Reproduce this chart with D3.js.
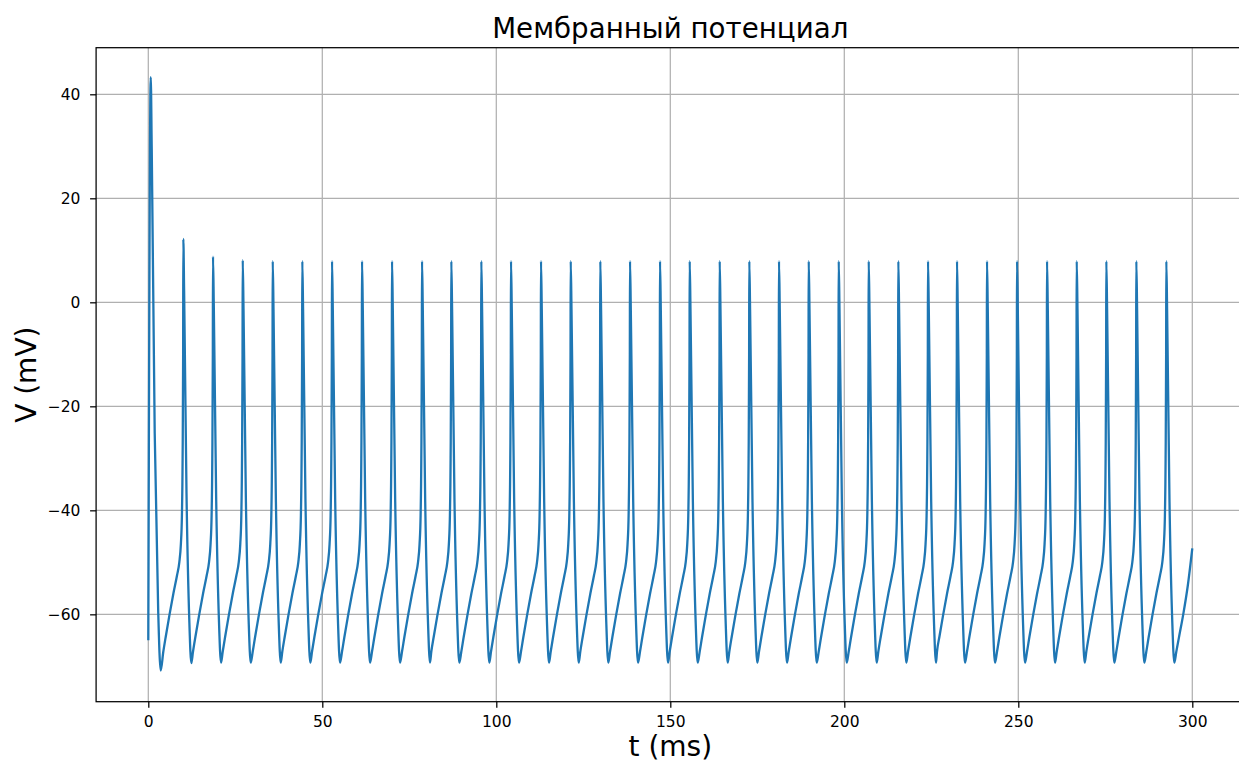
<!DOCTYPE html>
<html>
<head>
<meta charset="utf-8">
<script src="https://cdn.jsdelivr.net/npm/d3@7"></script>
<style>
    body { margin: 0; background: #fff; }
    text { font-family: "DejaVu Sans", sans-serif; fill: #000; }
</style>
</head>
<body>
<div id="chart"></div>
<script>
// spike peaks (ms, mV)
let spikeTimes = [
    0.7, 10.06, 18.59, 27.13, 35.75,
    44.25, 52.79, 61.41, 70.03, 78.65,
    87.07, 95.69, 104.22, 112.84, 121.38,
    129.88, 138.42, 147.04, 155.57, 164.19,
    172.7, 181.23, 189.77, 198.39, 207.01,
    215.52, 224.05, 232.38, 241.0, 249.63,
    258.25, 266.78, 275.29, 283.91, 292.53
];
let spikePeaks = [
    43.3, 12.2, 8.8, 8.1, 7.9,
    7.9, 7.9, 7.9, 7.9, 7.9,
    7.9, 7.9, 7.9, 7.9, 7.9,
    7.9, 7.9, 7.9, 7.9, 7.9,
    7.9, 7.9, 7.9, 7.9, 7.9,
    7.9, 7.9, 7.9, 7.9, 7.9,
    7.9, 7.9, 7.9, 7.9, 7.9
];
// after-hyperpolarisation minima
let troughTimes = [
    3.56, 12.36, 20.89, 29.43, 38.05,
    46.55, 55.09, 63.71, 72.33, 80.95,
    89.37, 97.99, 106.52, 115.14, 123.68,
    132.18, 140.72, 149.34, 157.87, 166.49,
    175.0, 183.53, 192.07, 200.69, 209.31,
    217.82, 226.35, 234.68, 243.3, 251.93,
    260.55, 269.08, 277.59, 286.21, 294.83
];
let troughValues = [
    -70.8, -69.4, -69.3, -69.3, -69.3,
    -69.3, -69.3, -69.3, -69.3, -69.3,
    -69.3, -69.3, -69.3, -69.3, -69.3,
    -69.3, -69.3, -69.3, -69.3, -69.3,
    -69.3, -69.3, -69.3, -69.3, -69.3,
    -69.3, -69.3, -69.3, -69.3, -69.3,
    -69.3, -69.3, -69.3, -69.3, -69.3
];
// slow depolarisation before a spike: ms before the peak -> mV
let riseBefore = [5.75, 5.05, 3.95, 2.85, 1.8, 1.15, 0.7, 0.4, 0.2, 0.05];
let riseValues = [-67.2, -64.3, -60, -56, -52.5, -50, -46.5, -41, -30, -10];
// repolarisation: share of the peak->trough time, share of the drop
let fallTime = [0.1, 0.4, 0.75];
let fallDrop = [0.12, 0.6, 0.9];
let startPoint = [0, -65];
let tailTimes = [295.4, 296.2, 297.4, 298.7, 300];
let tailValues = [-67.2, -64.3, -60, -54.5, -47.3];

let xTicks = [0, 50, 100, 150, 200, 250, 300];
let yTicks = [-60, -40, -20, 0, 20, 40];

let width = 1239,
    height = 762,
    plotLeft = 96.1,
    plotRight = 1244.5,
    plotTop = 47.7,
    plotBottom = 701.7;

let svg = d3.select('#chart').append('svg')
    .attr('width', width)
    .attr('height', height)
    .style('display', 'block');

let xScale = d3.scaleLinear()
    .domain([-15, 315])
    .range([plotLeft, plotRight]);

let yScale = d3.scaleLinear()
    .domain([-76.8, 48.96])
    .range([plotBottom, plotTop]);

// build the trace
let trace = [startPoint];
spikeTimes.forEach((tp, i) => {
    if (i > 0) {
        riseBefore.forEach((dt, j) => {
            if (tp - dt > troughTimes[i - 1] + 0.05) trace.push([tp - dt, riseValues[j]]);
        });
    }
    trace.push([tp, spikePeaks[i]]);
    fallTime.forEach((f, j) => {
        trace.push([tp + f * (troughTimes[i] - tp), spikePeaks[i] + fallDrop[j] * (troughValues[i] - spikePeaks[i])]);
    });
    trace.push([troughTimes[i], troughValues[i]]);
});
tailTimes.forEach((t, i) => trace.push([t, tailValues[i]]));

// grid
let grid_g = svg.append('g').attr('class', 'grid_g');
grid_g.selectAll('.vgrid')
    .data(xTicks)
    .join('line')
    .attr('class', 'vgrid')
    .attr('x1', d => xScale(d))
    .attr('x2', d => xScale(d))
    .attr('y1', plotTop)
    .attr('y2', plotBottom)
    .attr('stroke', '#b0b0b0')
    .attr('stroke-width', 1.25);
grid_g.selectAll('.hgrid')
    .data(yTicks)
    .join('line')
    .attr('class', 'hgrid')
    .attr('x1', plotLeft)
    .attr('x2', plotRight)
    .attr('y1', d => yScale(d))
    .attr('y2', d => yScale(d))
    .attr('stroke', '#b0b0b0')
    .attr('stroke-width', 1.25);

// trace
let line = d3.line()
    .x(d => xScale(d[0]))
    .y(d => yScale(d[1]))
    .curve(d3.curveMonotoneX);

svg.append('path')
    .datum(trace)
    .attr('fill', 'none')
    .attr('stroke', '#1f77b4')
    .attr('stroke-width', 2.3)
    .attr('stroke-linejoin', 'round')
    .attr('d', line);

// axes
let xAxis = svg.append('g')
    .attr('class', 'x-axis')
    .attr('transform', `translate(0, ${plotBottom})`)
    .call(d3.axisBottom(xScale).tickValues(xTicks).tickSize(6).tickPadding(8.6).tickSizeOuter(0));

let yAxis = svg.append('g')
    .attr('class', 'y-axis')
    .attr('transform', `translate(${plotLeft}, 0)`)
    .call(d3.axisLeft(yScale).tickValues(yTicks).tickSize(6).tickPadding(9.7).tickSizeOuter(0));

svg.selectAll('.domain').remove();
svg.selectAll('.tick line').attr('stroke', '#000').attr('stroke-width', 1.25);
svg.selectAll('.tick text')
    .style('font-family', '"DejaVu Sans", sans-serif')
    .style('font-size', '15.5px')
    .attr('fill', '#000');

// spines
svg.append('rect')
    .attr('x', plotLeft)
    .attr('y', plotTop)
    .attr('width', plotRight - plotLeft)
    .attr('height', plotBottom - plotTop)
    .attr('fill', 'none')
    .attr('stroke', '#000')
    .attr('stroke-width', 1.25);

// labels
let plotMid = (plotLeft + plotRight) / 2;

svg.append('text')
    .attr('x', plotMid)
    .attr('y', 37.5)
    .style('text-anchor', 'middle')
    .style('font-size', '27.7px')
    .text('Мембранный потенциал');

svg.append('text')
    .attr('x', plotMid)
    .attr('y', 755.5)
    .style('text-anchor', 'middle')
    .style('font-size', '28px')
    .text('t (ms)');

svg.append('text')
    .attr('transform', `translate(35.5, ${(plotTop + plotBottom) / 2}) rotate(-90)`)
    .style('text-anchor', 'middle')
    .style('font-size', '28px')
    .text('V (mV)');
</script>
</body>
</html>
